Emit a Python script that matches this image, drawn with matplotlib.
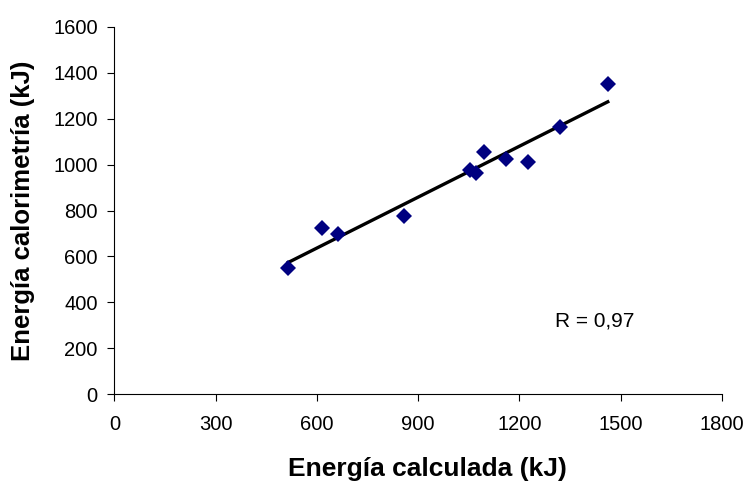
import matplotlib.pyplot as plt
import numpy as np

plt.rcParams['font.family'] = ['Liberation Sans', 'DejaVu Sans']

# Energia calculada vs energia calorimetria (kJ)
calculada = [515, 615, 663, 858, 1053, 1072, 1095, 1161, 1225, 1321, 1462]
calorimetria = [548, 722, 696, 776, 976, 962, 1054, 1024, 1010, 1165, 1349]
x_ticks = [0, 300, 600, 900, 1200, 1500, 1800]
y_ticks = [0, 200, 400, 600, 800, 1000, 1200, 1400, 1600]

fig = plt.figure(figsize=(7.48, 4.83), dpi=100)
ax = fig.add_axes([0.153, 0.1836, 0.812, 0.7611])

# linear trend line over the data range
slope, intercept = np.polyfit(calculada, calorimetria, 1)
xt = np.array([min(calculada), max(calculada)])
ax.plot(xt, slope * xt + intercept, color='black', linewidth=2.4, zorder=2)

ax.plot(calculada, calorimetria, 'D', color='#000080', markersize=8,
        markeredgewidth=0, zorder=3)

ax.set_xlim(0, 1800)
ax.set_ylim(0, 1600)
ax.set_xticks(x_ticks)
ax.set_yticks(y_ticks)
ax.tick_params(labelsize=14.5, direction='out', length=5, width=0.8)
ax.tick_params(axis='x', pad=10)
ax.tick_params(axis='y', pad=7)
for s in ['top', 'right']:
    ax.spines[s].set_visible(False)
for s in ['left', 'bottom']:
    ax.spines[s].set_linewidth(0.8)

ax.set_xlabel('Energía calculada (kJ)', fontsize=19, fontweight='bold', va='center')
ax.set_ylabel('Energía calorimetría (kJ)', fontsize=18.5, fontweight='bold', va='center')
ax.xaxis.set_label_coords(0.515, -0.203)
ax.yaxis.set_label_coords(-0.1506, 0.5)

ax.text(1305, 320, 'R = 0,97', fontsize=15, va='center', ha='left')

fig.savefig('out.png', dpi=100)
